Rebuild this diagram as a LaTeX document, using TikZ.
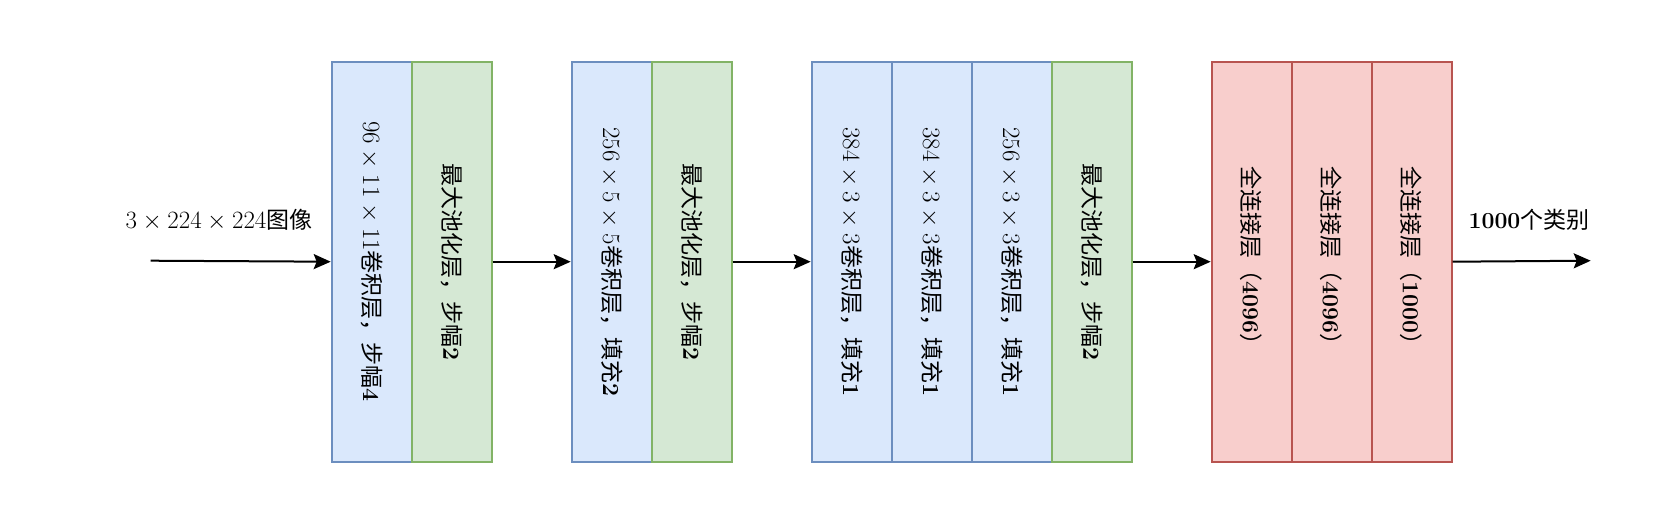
\documentclass[tikz,border=0pt]{standalone}
\usepackage{fontspec}
\newfontfamily\cjk{Noto Sans CJK SC}
\usetikzlibrary{arrows.meta}
\definecolor{convfill}{HTML}{DAE8FC}
\definecolor{convline}{HTML}{6C8EBF}
\definecolor{poolfill}{HTML}{D5E8D4}
\definecolor{poolline}{HTML}{82B366}
\definecolor{fcfill}{HTML}{F8CECC}
\definecolor{fcline}{HTML}{B85450}
\tikzset{
  layer/.style={line width=2pt, minimum width=80pt, minimum height=400pt, inner sep=0pt, anchor=north west, font=\fontsize{23}{28}\selectfont},
  conv/.style={layer, draw=convline, fill=convfill},
  pool/.style={layer, draw=poolline, fill=poolfill},
  fc/.style={layer, draw=fcline, fill=fcfill},
  flow/.style={line width=2pt, -{Stealth[length=17pt,width=15pt,inset=3pt]}},
  lbl/.style={font=\fontsize{23}{28}\selectfont, inner sep=0pt}
}
\newcommand{\vt}[1]{\rotatebox{-90}{#1}}
\begin{document}
\begin{tikzpicture}[x=1pt,y=-1pt]
\useasboundingbox (0,0) rectangle (1672,522);
% group 1
\node[conv] (c1) at (330.7,60.7) {\vt{$96\times11\times11${\cjk 卷积层，步幅}\textbf{4}}};
\node[pool] (p1) at (410.7,60.7) {\vt{{\cjk 最大池化层，步幅}\textbf{2}}};
% group 2
\node[conv] (c2) at (570.7,60.7) {\vt{$256\times5\times5${\cjk 卷积层，填充}\textbf{2}}};
\node[pool] (p2) at (650.7,60.7) {\vt{{\cjk 最大池化层，步幅}\textbf{2}}};
% group 3
\node[conv] (c3) at (810.7,60.7) {\vt{$384\times3\times3${\cjk 卷积层，填充}\textbf{1}}};
\node[conv] (c4) at (890.7,60.7) {\vt{$384\times3\times3${\cjk 卷积层，填充}\textbf{1}}};
\node[conv] (c5) at (970.7,60.7) {\vt{$256\times3\times3${\cjk 卷积层，填充}\textbf{1}}};
\node[pool] (p3) at (1050.7,60.7) {\vt{{\cjk 最大池化层，步幅}\textbf{2}}};
% group 4
\node[fc] (f1) at (1210.7,60.7) {\vt{{\cjk 全连接层（}\textbf{4096}{\cjk ）}}};
\node[fc] (f2) at (1290.7,60.7) {\vt{{\cjk 全连接层（}\textbf{4096}{\cjk ）}}};
\node[fc] (f3) at (1370.7,60.7) {\vt{{\cjk 全连接层（}\textbf{1000}{\cjk ）}}};
% labels
\node[lbl] (inlbl) at (219,220) {$3\times224\times224${\cjk 图像}};
\node[lbl] (outlbl) at (1529,220) {\textbf{1000}{\cjk 个类别}};
% connectors
\coordinate (in) at (150.7,260.7);
\coordinate (out) at (1590.7,260.7);
\draw[flow] (in) -- (c1.west);
\draw[flow] (p1.east) -- (c2.west);
\draw[flow] (p2.east) -- (c3.west);
\draw[flow] (p3.east) -- (f1.west);
\draw[flow] (f3.east) -- (out);
\end{tikzpicture}
\end{document}
